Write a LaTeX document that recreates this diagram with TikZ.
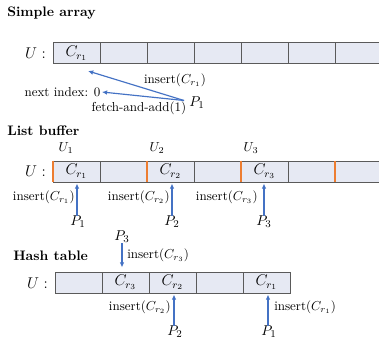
\documentclass[tikz,border=0pt]{standalone}
\usetikzlibrary{arrows.meta}
\definecolor{cellfill}{HTML}{E6E9F3}
\definecolor{cellline}{HTML}{5A5A5A}
\definecolor{arrblue}{HTML}{4472C4}
\definecolor{barorange}{HTML}{ED7D31}
\tikzset{
  cell/.style={draw=cellline, line width=0.6pt, fill=cellfill, minimum width=36.19pt, minimum height=16.2pt, inner sep=0pt, anchor=center},
  lbl/.style={inner sep=0pt},
  clbl/.style={inner sep=0pt, font=\fontsize{12}{14}\selectfont},
  plbl/.style={inner sep=0pt, font=\fontsize{11.2}{13}\selectfont},
  ulbl/.style={inner sep=0pt, anchor=east, font=\fontsize{13}{15}\selectfont},
  title/.style={inner sep=0pt, anchor=west, font=\fontsize{10.6}{13}\selectfont\bfseries},
  parrow/.style={draw=arrblue, line width=0.9pt, -{Latex[length=4pt,width=3.6pt]}},
  obar/.style={draw=barorange, line width=1.6pt}
}
\begin{document}
\begin{tikzpicture}[x=0.77pt, y=-0.77pt]
\useasboundingbox (0,0) rectangle (379,343);
\clip (0,0) rectangle (379,343);
% ---------- Simple array ----------
\node[title] (t1) at (7,13) {Simple array};
\node[ulbl] (u1) at (46,53) {$U:$};
\foreach \i in {0,...,7} {
  \node[cell] (s\i) at ({76.5+47*\i},53.25) {};
}
\node[clbl] at (s0) {$C_{r_1}$};
\node[plbl] (sp1) at (197,103) {$P_1$};
\node[lbl] (sins) at (175,80) {insert($C_{r_1}$)};
\node[lbl] (snext) at (62.5,92) {next index: 0};
\node[lbl] (sfetch) at (139,108) {fetch-and-add(1)};
\coordinate (stip) at (88,71);
\coordinate (sorig) at (184,100.5);
\draw[parrow] (sorig) -- (stip);
\draw[parrow] (sorig) -- ([xshift=1pt]snext.east);
% ---------- List buffer ----------
\node[title] (t2) at (7,131) {List buffer};
\node[ulbl] (u2) at (46,171.5) {$U:$};
\foreach \i in {0,...,7} {
  \node[cell] (l\i) at ({76.5+47*\i},171.5) {};
}
\foreach \i in {0,2,4,6} {
  \draw[obar] (l\i.north west) -- (l\i.south west);
}
\node[clbl] at (l0) {$C_{r_1}$};
\node[clbl] at (l2) {$C_{r_2}$};
\node[clbl] at (l4) {$C_{r_3}$};
\node[lbl] (U1) at (66,148) {$U_1$};
\node[lbl] (U2) at (157,148) {$U_2$};
\node[lbl] (U3) at (251,148) {$U_3$};
\node[plbl] (lp1) at (78,222) {$P_1$};
\node[plbl] (lp2) at (172,222) {$P_2$};
\node[plbl] (lp3) at (264,222) {$P_3$};
\coordinate (lt1) at (77,183.5);
\coordinate (lt2) at (172,183.5);
\coordinate (lt3) at (264,183.5);
\draw[parrow] (lt1 |- lp1.north) -- (lt1);
\draw[parrow] (lt2 |- lp2.north) -- (lt2);
\draw[parrow] (lt3 |- lp3.north) -- (lt3);
\node[lbl, anchor=east] at (75,197) {insert($C_{r_1}$)};
\node[lbl, anchor=east] at (170,197) {insert($C_{r_2}$)};
\node[lbl, anchor=east] at (258,197) {insert($C_{r_3}$)};
% ---------- Hash table ----------
\node[title] (t3) at (13,256) {Hash table};
\node[ulbl] (u3) at (48,283) {$U:$};
\foreach \i in {0,...,4} {
  \node[cell] (h\i) at ({78.5+47*\i},282.5) {};
}
\node[clbl] at (h1) {$C_{r_3}$};
\node[clbl] at (h2) {$C_{r_2}$};
\node[clbl] at (h4) {$C_{r_1}$};
\node[plbl] (hp3) at (122,237) {$P_3$};
\node[plbl] (hp2) at (175,332) {$P_2$};
\node[plbl] (hp1) at (269,332) {$P_1$};
\coordinate (ht3) at (122,267.5);
\coordinate (ht2) at (174,294.5);
\coordinate (ht1) at (268,294.5);
\draw[parrow] (ht3 |- hp3.south) -- (ht3);
\draw[parrow] (ht2 |- hp2.north) -- (ht2);
\draw[parrow] (ht1 |- hp1.north) -- (ht1);
\node[lbl, anchor=west] at (127,255) {insert($C_{r_3}$)};
\node[lbl, anchor=east] at (171,307) {insert($C_{r_2}$)};
\node[lbl, anchor=west] at (274,307) {insert($C_{r_1}$)};
\end{tikzpicture}
\end{document}
